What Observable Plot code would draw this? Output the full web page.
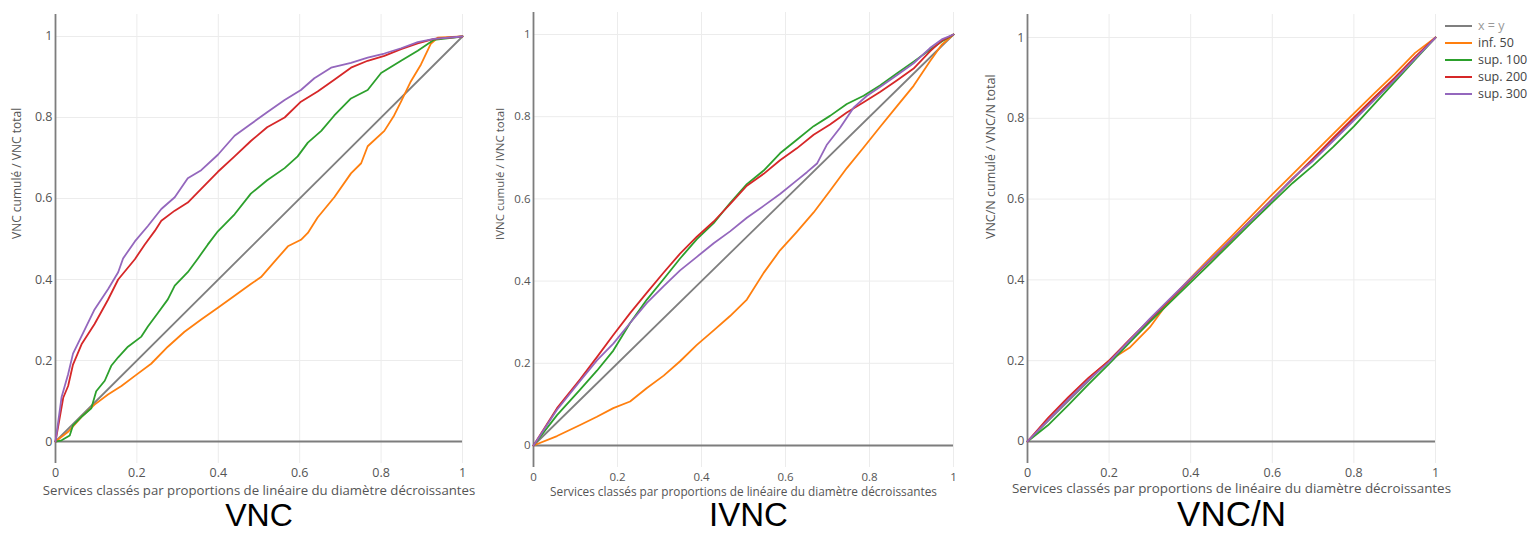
<!DOCTYPE html>
<html>
<head>
<meta charset="utf-8">
<script src="https://cdn.jsdelivr.net/npm/d3@7"></script>
<script src="https://cdn.jsdelivr.net/npm/@observablehq/plot@0.6"></script>
<style>
  body { margin: 0; background: #fff; }
  #wrap { position: relative; width: 1529px; height: 533px; overflow: hidden; background: #fff; }
  .panel { position: absolute; top: 0; }
  #legend { position: absolute; left: 1445px; top: 17px; font: 12.5px "Open Sans", sans-serif; color: #444; }
  #legend .row { height: 17px; display: flex; align-items: center; white-space: nowrap; }
  #legend .sw { width: 27px; height: 0; border-top: 2px solid; margin-right: 6px; }
</style>
</head>
<body>
<div id="wrap"></div>
<script>
// ---------- series ----------
const seriesNames = ["x = y", "inf. 50", "sup. 100", "sup. 200", "sup. 300"];
const seriesColors = ["#7f7f7f", "#ff7f0e", "#2ca02c", "#d62728", "#9467bd"];
const panelTitles = ["VNC", "IVNC", "VNC/N"];
const yLabels = ["VNC cumulé / VNC total", "IVNC cumulé / IVNC total", "VNC/N cumulé / VNC/N total"];
const xLabel = "Services classés par proportions de linéaire du diamètre décroissantes";
const tickValues = [0, 0.2, 0.4, 0.6, 0.8, 1];
const tickLabels = ["0", "0.2", "0.4", "0.6", "0.8", "1"];

// diagonal x = y
const diagX = [0, 1];
const diagY = [0, 1];

// ---------- panel 1 : VNC ----------
const vnc_inf50_x = [0, 0.031, 0.064, 0.096, 0.129, 0.162, 0.195, 0.235, 0.276, 0.317, 0.358, 0.399, 0.44, 0.48, 0.505, 0.538, 0.571, 0.603, 0.62, 0.644, 0.685, 0.726, 0.751, 0.767, 0.808, 0.832, 0.849, 0.873, 0.898, 0.922, 0.939, 1];
const vnc_inf50_y = [0, 0.024, 0.061, 0.091, 0.116, 0.137, 0.162, 0.192, 0.234, 0.271, 0.301, 0.33, 0.36, 0.389, 0.406, 0.444, 0.482, 0.498, 0.515, 0.553, 0.603, 0.662, 0.687, 0.729, 0.767, 0.805, 0.839, 0.889, 0.931, 0.982, 0.997, 1];
const vnc_sup100_x = [0, 0.015, 0.035, 0.043, 0.064, 0.088, 0.1, 0.121, 0.137, 0.154, 0.178, 0.211, 0.227, 0.252, 0.276, 0.293, 0.325, 0.35, 0.374, 0.399, 0.44, 0.48, 0.52, 0.563, 0.595, 0.62, 0.653, 0.685, 0.726, 0.767, 0.8, 0.849, 0.89, 0.93, 1];
const vnc_sup100_y = [0, 0.003, 0.015, 0.04, 0.061, 0.082, 0.124, 0.15, 0.187, 0.208, 0.234, 0.259, 0.284, 0.318, 0.351, 0.385, 0.418, 0.452, 0.486, 0.519, 0.561, 0.612, 0.645, 0.675, 0.704, 0.738, 0.767, 0.805, 0.847, 0.868, 0.91, 0.94, 0.965, 0.992, 1];
const vnc_sup200_x = [0, 0.019, 0.031, 0.043, 0.064, 0.096, 0.129, 0.154, 0.195, 0.219, 0.244, 0.26, 0.293, 0.325, 0.358, 0.399, 0.44, 0.48, 0.52, 0.563, 0.603, 0.644, 0.685, 0.726, 0.767, 0.808, 0.849, 0.89, 0.93, 1];
const vnc_sup200_y = [0, 0.108, 0.137, 0.19, 0.24, 0.29, 0.35, 0.40, 0.45, 0.486, 0.52, 0.545, 0.57, 0.59, 0.624, 0.666, 0.704, 0.742, 0.776, 0.80, 0.839, 0.864, 0.893, 0.923, 0.94, 0.952, 0.969, 0.983, 0.994, 1];
const vnc_sup300_x = [0, 0.015, 0.031, 0.043, 0.064, 0.096, 0.129, 0.154, 0.166, 0.195, 0.227, 0.26, 0.293, 0.325, 0.358, 0.399, 0.44, 0.48, 0.52, 0.563, 0.603, 0.636, 0.677, 0.726, 0.767, 0.808, 0.849, 0.89, 0.93, 1];
const vnc_sup300_y = [0, 0.11, 0.166, 0.217, 0.26, 0.326, 0.376, 0.418, 0.452, 0.494, 0.532, 0.574, 0.603, 0.65, 0.67, 0.708, 0.755, 0.784, 0.813, 0.843, 0.868, 0.897, 0.923, 0.935, 0.948, 0.958, 0.971, 0.986, 0.994, 1];

// ---------- panel 2 : IVNC ----------
const ivnc_x = [0, 0.056, 0.111, 0.151, 0.19, 0.23, 0.27, 0.31, 0.349, 0.389, 0.429, 0.468, 0.508, 0.548, 0.587, 0.627, 0.667, 0.706, 0.746, 0.786, 0.825, 0.865, 0.905, 0.944, 0.972, 1];
const ivnc_inf50_y = [0, 0.023, 0.05, 0.07, 0.091, 0.107, 0.14, 0.17, 0.205, 0.245, 0.28, 0.315, 0.355, 0.42, 0.475, 0.52, 0.567, 0.62, 0.675, 0.725, 0.775, 0.825, 0.875, 0.935, 0.975, 1];
const ivnc_sup100_y = [0, 0.074, 0.136, 0.182, 0.231, 0.298, 0.355, 0.405, 0.455, 0.502, 0.541, 0.59, 0.636, 0.669, 0.711, 0.744, 0.777, 0.802, 0.831, 0.851, 0.876, 0.905, 0.934, 0.963, 0.983, 1];
const ivnc_sup200_y = [0, 0.091, 0.161, 0.215, 0.269, 0.322, 0.372, 0.421, 0.467, 0.508, 0.545, 0.587, 0.632, 0.661, 0.694, 0.723, 0.756, 0.781, 0.81, 0.835, 0.86, 0.888, 0.917, 0.959, 0.985, 1];
const ivnc_sup300_x = [0, 0.056, 0.111, 0.151, 0.19, 0.23, 0.27, 0.31, 0.349, 0.389, 0.429, 0.468, 0.508, 0.548, 0.587, 0.627, 0.651, 0.675, 0.698, 0.73, 0.762, 0.794, 0.825, 0.865, 0.905, 0.944, 0.972, 1];
const ivnc_sup300_y = [0, 0.087, 0.157, 0.207, 0.248, 0.298, 0.347, 0.388, 0.426, 0.459, 0.492, 0.521, 0.554, 0.583, 0.612, 0.645, 0.665, 0.686, 0.731, 0.773, 0.822, 0.851, 0.872, 0.901, 0.93, 0.967, 0.988, 1];

// ---------- panel 3 : VNC/N ----------
const vncn_x = [0, 0.05, 0.1, 0.15, 0.2, 0.25, 0.3, 0.35, 0.4, 0.45, 0.5, 0.55, 0.6, 0.65, 0.7, 0.75, 0.8, 0.85, 0.9, 0.95, 1];
const vncn_inf50_y = [0, 0.055, 0.108, 0.157, 0.2, 0.232, 0.283, 0.352, 0.405, 0.457, 0.508, 0.56, 0.612, 0.662, 0.712, 0.762, 0.812, 0.862, 0.91, 0.962, 1];
const vncn_sup100_y = [0, 0.04, 0.09, 0.142, 0.192, 0.245, 0.296, 0.345, 0.394, 0.443, 0.493, 0.543, 0.592, 0.64, 0.683, 0.73, 0.78, 0.835, 0.89, 0.945, 1];
const vncn_sup200_y = [0, 0.058, 0.11, 0.158, 0.2, 0.252, 0.302, 0.352, 0.402, 0.45, 0.5, 0.55, 0.6, 0.65, 0.7, 0.752, 0.802, 0.852, 0.9, 0.952, 1];
const vncn_sup300_y = [0, 0.052, 0.104, 0.153, 0.197, 0.25, 0.304, 0.354, 0.404, 0.452, 0.501, 0.549, 0.598, 0.652, 0.695, 0.745, 0.795, 0.845, 0.895, 0.948, 1];

// ---------- build rows ----------
function rowsOf(name, xs, ys) { return xs.map((x, i) => ({ series: name, x, y: ys[i] })); }
const panelData = [
  [rowsOf(seriesNames[0], diagX, diagY),
   rowsOf(seriesNames[1], vnc_inf50_x, vnc_inf50_y),
   rowsOf(seriesNames[2], vnc_sup100_x, vnc_sup100_y),
   rowsOf(seriesNames[3], vnc_sup200_x, vnc_sup200_y),
   rowsOf(seriesNames[4], vnc_sup300_x, vnc_sup300_y)].flat(),
  [rowsOf(seriesNames[0], diagX, diagY),
   rowsOf(seriesNames[1], ivnc_x, ivnc_inf50_y),
   rowsOf(seriesNames[2], ivnc_x, ivnc_sup100_y),
   rowsOf(seriesNames[3], ivnc_x, ivnc_sup200_y),
   rowsOf(seriesNames[4], ivnc_sup300_x, ivnc_sup300_y)].flat(),
  [rowsOf(seriesNames[0], diagX, diagY),
   rowsOf(seriesNames[1], vncn_x, vncn_inf50_y),
   rowsOf(seriesNames[2], vncn_x, vncn_sup100_y),
   rowsOf(seriesNames[3], vncn_x, vncn_sup200_y),
   rowsOf(seriesNames[4], vncn_x, vncn_sup300_y)].flat()
];

// ---------- layout (styles only) ----------
const layouts = [
  { left: 0,   width: 480, mL: 55, mR: 18, mT: 14, mB: 70, yDom: [-0.0543, 1.0543], ylDx: -38, xlDy: 31, tDy: 62, tDx: 0, fs: 12.5, lfs: 13.2, yfs: 12, tfs: 32 },
  { left: 480, width: 500, mL: 53, mR: 27, mT: 12, mB: 66, yDom: [-0.0535, 1.0535], ylDx: -33, xlDy: 28, tDy: 58, tDx: 5, fs: 11.5, lfs: 11.8, yfs: 11.5, tfs: 33 },
  { left: 980, width: 549, mL: 47, mR: 94, mT: 14, mB: 70, yDom: [-0.0545, 1.057],  ylDx: -37, xlDy: 29, tDy: 62, tDx: 0, fs: 12.5, lfs: 13.4, yfs: 12.5, tfs: 35 }
];

const fmt = d => tickLabels[tickValues.indexOf(d)] ?? String(d);
const wrap = document.getElementById("wrap");

layouts.forEach((L, i) => {
  const chart = Plot.plot({
    width: L.width,
    height: 533,
    marginLeft: L.mL, marginRight: L.mR, marginTop: L.mT, marginBottom: L.mB,
    style: { fontFamily: '"Open Sans", sans-serif', color: "#555", background: "transparent", overflow: "visible" },
    x: { domain: [0, 1] },
    y: { domain: L.yDom },
    color: { domain: seriesNames, range: seriesColors },
    marks: [
      Plot.ruleX(tickValues.slice(1), { stroke: "#ececec", strokeWidth: 1 }),
      Plot.ruleY(tickValues.slice(1), { x1: 0, x2: 1, stroke: "#ececec", strokeWidth: 1 }),
      Plot.ruleX([0], { stroke: "#7d7d7d", strokeWidth: 1.8 }),
      Plot.ruleY([0], { x1: 0, x2: 1, stroke: "#7d7d7d", strokeWidth: 1.8 }),
      Plot.line(panelData[i], { x: "x", y: "y", z: "series", stroke: "series", strokeWidth: 1.8, curve: "linear" }),
      Plot.axisX({ ticks: tickValues, tickSize: 0, tickPadding: 5, tickFormat: fmt, fontSize: L.fs, label: null }),
      Plot.axisY({ ticks: tickValues, tickSize: 0, tickPadding: 3, tickFormat: fmt, fontSize: L.fs, label: null }),
      Plot.text([yLabels[i]], { text: d => d, frameAnchor: "left", rotate: -90, dx: L.ylDx, fontSize: L.yfs, fill: "#555" }),
      Plot.text([xLabel], { text: d => d, frameAnchor: "bottom", dy: L.xlDy, fontSize: L.lfs, fill: "#555" }),
      Plot.text([panelTitles[i]], { text: d => d, frameAnchor: "bottom", dy: L.tDy, dx: L.tDx, fontSize: L.tfs, fill: "#000", fontFamily: '"Liberation Sans", Arial, sans-serif' })
    ]
  });
  chart.classList.add("panel");
  chart.style.left = L.left + "px";
  wrap.appendChild(chart);
});

// ---------- legend ----------
const legend = document.createElement("div");
legend.id = "legend";
seriesNames.forEach((n, i) => {
  const row = document.createElement("div");
  row.className = "row";
  const sw = document.createElement("span");
  sw.className = "sw";
  sw.style.borderTopColor = seriesColors[i];
  const t = document.createElement("span");
  t.textContent = n;
  if (i === 0) t.style.color = "#999";
  row.appendChild(sw); row.appendChild(t);
  legend.appendChild(row);
});
wrap.appendChild(legend);
</script>
</body>
</html>
